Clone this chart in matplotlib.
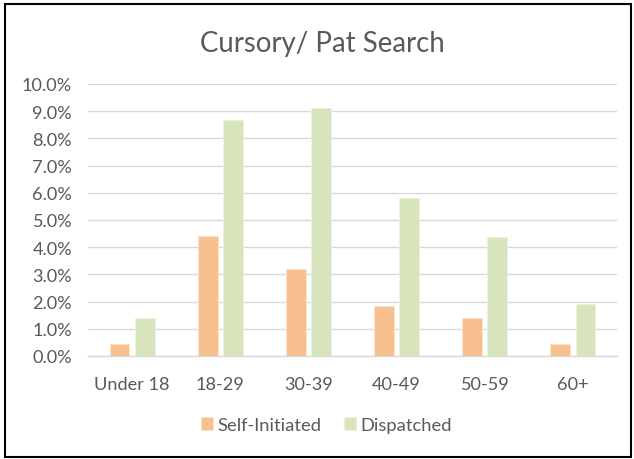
import matplotlib
matplotlib.use("Agg")
import matplotlib.pyplot as plt
from matplotlib.patches import Rectangle
from matplotlib.textpath import TextPath
from matplotlib.font_manager import FontProperties
import numpy as np

categories = ["Under 18", "18-29", "30-39", "40-49", "50-59", "60+"]
self_initiated = [0.43, 4.41, 3.19, 1.83, 1.40, 0.43]
dispatched = [1.40, 8.68, 9.10, 5.81, 4.36, 1.90]
yticks = [0, 1, 2, 3, 4, 5, 6, 7, 8, 9, 10]
ytick_labels = [f"{v:.1f}%" for v in yticks]

FAMILY = 'Lato'
plt.rcParams['font.family'] = [FAMILY, 'DejaVu Sans']
text_color = "#595959"
DPI = 100


def fit_size(text, target_px):
    """Font size (pt) whose ink width is target_px pixels."""
    w = TextPath((0, 0), text, size=10, prop=FontProperties(family=FAMILY)).get_extents().width
    return 10 * target_px / (w * DPI / 72)


title_fs = fit_size("Cursory/ Pat Search", 242)
xtick_fs = fit_size("Under 18", 73)
ytick_fs = fit_size("10.0%", 48)
leg_fs = fit_size("Self-Initiated", 102)

px = lambda p: p * 72 / DPI  # pixels -> points

fig = plt.figure(figsize=(6.34, 4.6), dpi=DPI)
ax = fig.add_axes([88/634, (460-357)/460, (617-88)/634, (357-85)/460])

x = np.arange(len(categories))
w = 0.225
off = 0.142
ax.bar(x - off, self_initiated, width=w, color="#F8BF8F", edgecolor="#FCE3CC", linewidth=0.6, label="Self-Initiated", zorder=3)
ax.bar(x + off, dispatched, width=w, color="#D8E4BC", edgecolor="#EDF2DF", linewidth=0.6, label="Dispatched", zorder=3)

ax.set_xlim(-0.5, len(categories) - 0.5)
ax.set_ylim(0, 10)
ax.set_yticks(yticks)
ax.set_yticklabels(ytick_labels, color=text_color, fontsize=ytick_fs)
ax.set_xticks(x)
ax.set_xticklabels(categories, color=text_color, fontsize=xtick_fs)
ax.tick_params(axis='both', length=0)
ax.tick_params(axis='x', pad=px(33))
for lab in ax.get_xticklabels():
    lab.set_va('baseline')
ax.tick_params(axis='y', pad=px(16))
ax.grid(axis='y', color="#D9D9D9", linewidth=1, zorder=0)
for s in ["top", "right", "left"]:
    ax.spines[s].set_visible(False)
ax.spines["bottom"].set_color("#D9D9D9")
ax.spines["bottom"].set_linewidth(1)

fig.text(322.5/634, 1 - 52/460, "Cursory/ Pat Search", ha="center", va="baseline",
         fontsize=title_fs, color=text_color)

leg_px = leg_fs * DPI / 72
leg = fig.legend(loc="center", bbox_to_anchor=(326.5/634, 1 - 426/460), ncol=2, frameon=False,
                 fontsize=leg_fs, handlelength=12/leg_px, handleheight=12/leg_px,
                 handletextpad=5/leg_px, columnspacing=22/leg_px, borderpad=0)
for t in leg.get_texts():
    t.set_color(text_color)

fig.patches.append(Rectangle((5/634, 1 - 458/460), (631-5)/634, (458-5)/460,
                             transform=fig.transFigure, fill=False, edgecolor="black",
                             linewidth=1.5))

fig.savefig("out.png", dpi=DPI, facecolor="white")
